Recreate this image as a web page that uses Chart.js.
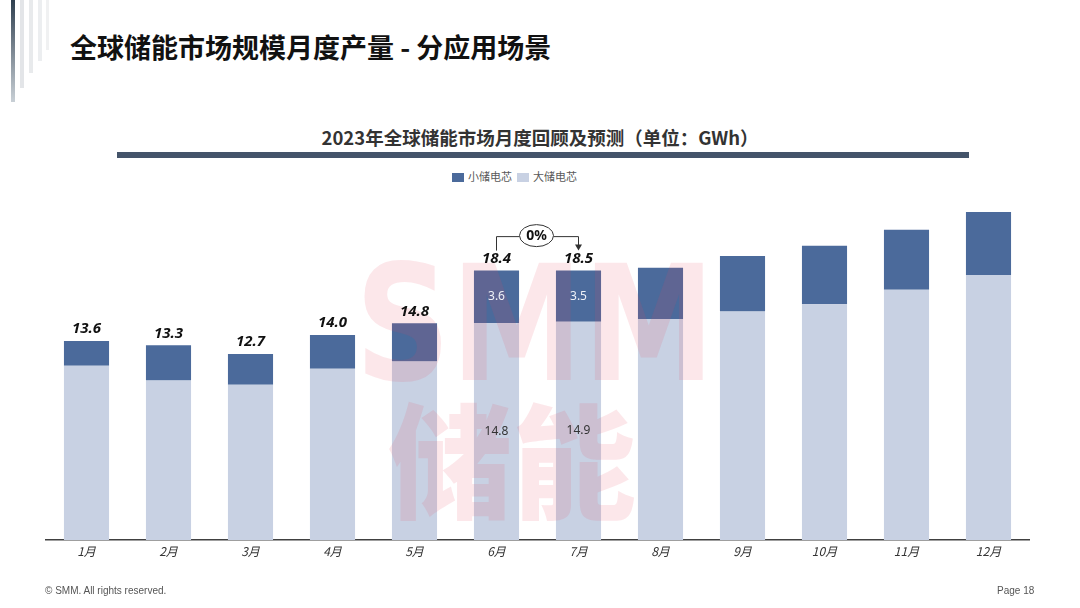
<!DOCTYPE html>
<html>
<head>
<meta charset="utf-8">
<script src="https://cdn.jsdelivr.net/npm/chart.js@4"></script>
<style>
  body { margin: 0; width: 1080px; height: 608px; background: #fff; position: relative; overflow: hidden;
         font-family: "Noto Sans CJK SC", "Noto Sans", sans-serif; }
  #wrap { position: absolute; left: 0; top: 0; width: 1080px; height: 608px; }
  .strip { position: absolute; top: 0; }
  #title { position: absolute; left: 70px; top: 29px; font-size: 27px; font-weight: bold; color: #111; line-height: 36px; white-space: nowrap; }
  #subtitle { position: absolute; left: 0; width: 1080px; top: 124px; text-align: center; font-size: 18.5px; font-weight: bold; color: #333; line-height: 26px; }
  #band { position: absolute; left: 117px; top: 152px; width: 852px; height: 6px; background: #44546a; }
  #legend { position: absolute; left: 452px; top: 169px; font-size: 11px; color: #595959; line-height: 14px; white-space: nowrap; }
  #legend span.box { display: inline-block; width: 12px; height: 9px; vertical-align: -1px; margin-right: 4px; }
  #legend span.item { margin-right: 5px; }
  .foot { position: absolute; top: 585px; font-family: "Liberation Sans Narrow", "Liberation Sans", sans-serif; font-size: 10px; color: #555; }
</style>
</head>
<body>
<div class="strip" style="left:11px;width:4px;height:102px;background:linear-gradient(#2f3f4f,#c9d0d6);"></div>
<div class="strip" style="left:20px;width:4px;height:88px;background:#e3e5e8;"></div>
<div class="strip" style="left:29px;width:4px;height:73px;background:#e8eaec;"></div>
<div class="strip" style="left:38px;width:4px;height:61px;background:#eceef0;"></div>
<div class="strip" style="left:46px;width:3px;height:50px;background:#f0f1f2;"></div>
<div id="title">全球储能市场规模月度产量 - 分应用场景</div>
<div id="subtitle">2023年全球储能市场月度回顾及预测（单位：GWh）</div>
<div id="band"></div>
<div id="legend"><span class="item"><span class="box" style="background:#4b6a9b"></span>小储电芯</span><span class="item"><span class="box" style="background:#c8d1e3"></span>大储电芯</span></div>
<div id="wrap"><canvas id="chart" width="1080" height="608"></canvas></div>
<div class="foot" style="left:45px;">© SMM. All rights reserved.</div>
<div class="foot" style="left:997px;">Page 18</div>
<script>
var months = ["1月", "2月", "3月", "4月", "5月", "6月", "7月", "8月", "9月", "10月", "11月", "12月"];
var bigCells = [11.9, 10.9, 10.6, 11.7, 12.2, 14.8, 14.9, 15.1, 15.6, 16.1, 17.1, 18.1];
var smallCells = [1.7, 2.4, 2.1, 2.3, 2.6, 3.6, 3.5, 3.5, 3.8, 4.0, 4.1, 4.3];
var totalLabels = ["13.6", "13.3", "12.7", "14.0", "14.8", "18.4", "18.5", null, null, null, null, null];
var innerLabelIdx = [5, 6];

var overlay = {
  id: "overlay",
  afterDatasetsDraw: function (chart) {
    var ctx = chart.ctx;
    var big = chart.getDatasetMeta(0).data;
    var small = chart.getDatasetMeta(1).data;

    // watermark
    ctx.save();
    ctx.fillStyle = "rgba(232, 70, 90, 0.13)";
    ctx.textBaseline = "alphabetic";
    ctx.font = "900 160px 'DejaVu Sans'";
    var w = ctx.measureText("SMM").width;
    ctx.translate(355, 380);
    ctx.scale(360 / w, 1);
    ctx.fillText("SMM", 0, 0);
    ctx.restore();
    ctx.save();
    ctx.fillStyle = "rgba(232, 70, 90, 0.13)";
    ctx.font = "900 124px 'Noto Sans CJK SC'";
    ctx.textBaseline = "middle";
    ctx.textAlign = "center";
    ctx.fillText("储能", 512, 462);
    ctx.restore();

    // totals above bars
    ctx.save();
    ctx.font = "italic bold 15px 'Noto Sans', sans-serif";
    ctx.fillStyle = "#111";
    ctx.textAlign = "center";
    ctx.textBaseline = "middle";
    totalLabels.forEach(function (t, i) {
      if (t === null) return;
      ctx.fillText(t, small[i].x, small[i].y - 12);
    });

    // inner values
    ctx.font = "12px 'Noto Sans', sans-serif";
    innerLabelIdx.forEach(function (i) {
      ctx.fillStyle = "#eef1f7";
      ctx.fillText(String(smallCells[i]), small[i].x, (small[i].y + small[i].base) / 2);
      ctx.fillStyle = "#333";
      ctx.fillText(String(bigCells[i]), big[i].x, (big[i].y + big[i].base) / 2);
    });

    // bracket 6月 -> 7月
    var x1 = small[5].x, x2 = small[6].x;
    var yTop = small[5].y - 34;
    var cx = (x1 + x2) / 2 - 1;
    ctx.strokeStyle = "#333";
    ctx.lineWidth = 1;
    ctx.beginPath();
    ctx.moveTo(x1, small[5].y - 20);
    ctx.lineTo(x1, yTop);
    ctx.lineTo(cx - 17, yTop);
    ctx.moveTo(cx + 17, yTop);
    ctx.lineTo(x2, yTop);
    ctx.lineTo(x2, small[6].y - 24);
    ctx.stroke();
    ctx.fillStyle = "#333";
    ctx.beginPath();
    ctx.moveTo(x2 - 3.5, small[6].y - 26);
    ctx.lineTo(x2 + 3.5, small[6].y - 26);
    ctx.lineTo(x2, small[6].y - 20);
    ctx.closePath();
    ctx.fill();
    ctx.beginPath();
    ctx.ellipse(cx, yTop - 1, 17, 11, 0, 0, Math.PI * 2);
    ctx.fillStyle = "#fff";
    ctx.fill();
    ctx.stroke();
    ctx.fillStyle = "#111";
    ctx.font = "bold 14px 'Noto Sans', sans-serif";
    ctx.fillText("0%", cx, yTop - 1);
    ctx.restore();
  }
};

new Chart(document.getElementById("chart"), {
  type: "bar",
  data: {
    labels: months,
    datasets: [
      { label: "大储电芯", data: bigCells, backgroundColor: "#c8d1e3", borderWidth: 0 },
      { label: "小储电芯", data: smallCells, backgroundColor: "#4b6a9b", borderWidth: 0 }
    ]
  },
  options: {
    responsive: false,
    animation: false,
    layout: { padding: { left: 45.5, right: 50.5, top: 174, bottom: 45.6 } },
    datasets: { bar: { categoryPercentage: 1, barPercentage: 0.55 } },
    plugins: { legend: { display: false }, tooltip: { enabled: false } },
    scales: {
      x: {
        stacked: true,
        grid: { display: false, drawTicks: false },
        border: { display: true, color: "#404040", width: 1.5 },
        ticks: { color: "#333", padding: 4, font: { size: 12, style: "italic", family: "'Noto Sans CJK SC', sans-serif" } }
      },
      y: { stacked: true, display: false, min: 0, max: 25 }
    }
  },
  plugins: [overlay]
});
</script>
</body>
</html>
